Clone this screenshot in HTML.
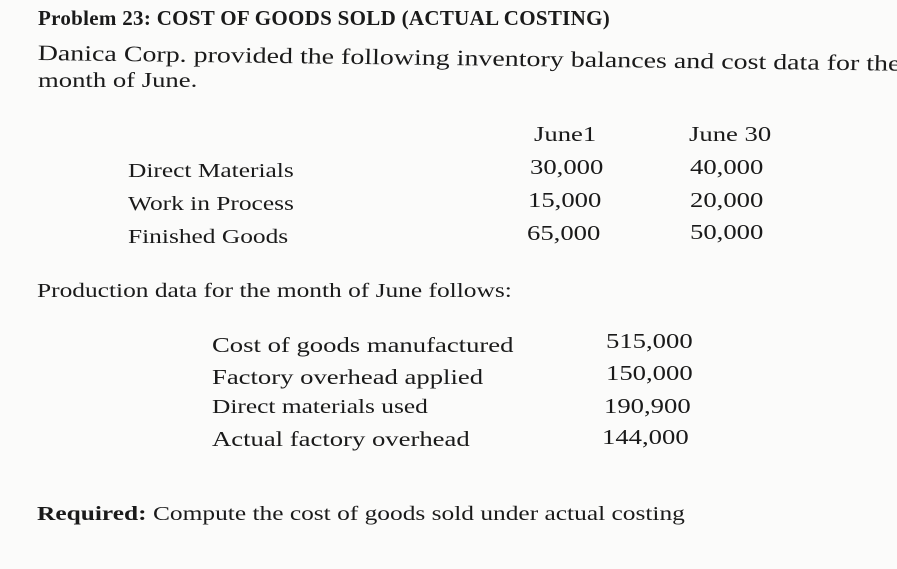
<!DOCTYPE html>
<html><head><meta charset="utf-8">
<style>
html,body{margin:0;padding:0}
body{width:897px;height:569px;background:#fbfbfa;position:relative;overflow:hidden;font-family:"Liberation Serif",serif;color:#1a1a1a}
.t{position:absolute;white-space:nowrap;font-size:21px;transform:scaleX(1.27);transform-origin:left top}
.b{font-weight:bold}
</style></head><body>
<div class="t b" style="left:38px;top:6px;font-size:21px;letter-spacing:0.3px;transform:none">Problem 23: COST OF GOODS SOLD (ACTUAL COSTING)</div>
<div class="t" style="left:38px;top:40px;font-size:22px;transform:scaleX(1.27) rotate(0.9deg)">Danica Corp. provided the following inventory balances and cost data for the</div>
<div class="t" style="left:38px;top:68px">month of June.</div>

<div class="t" style="left:534px;top:122px">June1</div>
<div class="t" style="left:689px;top:122px">June 30</div>

<div class="t" style="left:128px;top:160px;font-size:20px">Direct Materials</div>
<div class="t" style="left:530px;top:155px">30,000</div>
<div class="t" style="left:690px;top:155px">40,000</div>

<div class="t" style="left:128px;top:193px;font-size:20px">Work in Process</div>
<div class="t" style="left:528px;top:188px">15,000</div>
<div class="t" style="left:690px;top:188px">20,000</div>

<div class="t" style="left:128px;top:226px;font-size:20px">Finished Goods</div>
<div class="t" style="left:527px;top:221px">65,000</div>
<div class="t" style="left:690px;top:220px">50,000</div>

<div class="t" style="left:37px;top:280px;font-size:20px">Production data for the month of June follows:</div>

<div class="t" style="left:212px;top:333px">Cost of goods manufactured</div>
<div class="t" style="left:606px;top:329px">515,000</div>
<div class="t" style="left:212px;top:365px">Factory overhead applied</div>
<div class="t" style="left:606px;top:361px">150,000</div>
<div class="t" style="left:212px;top:396px;font-size:20px">Direct materials used</div>
<div class="t" style="left:604px;top:394px">190,900</div>
<div class="t" style="left:212px;top:427px">Actual factory overhead</div>
<div class="t" style="left:602px;top:425px">144,000</div>

<div class="t" style="left:37px;top:503px;font-size:20px"><b>Required:</b> Compute the cost of goods sold under actual costing</div>
</body></html>
